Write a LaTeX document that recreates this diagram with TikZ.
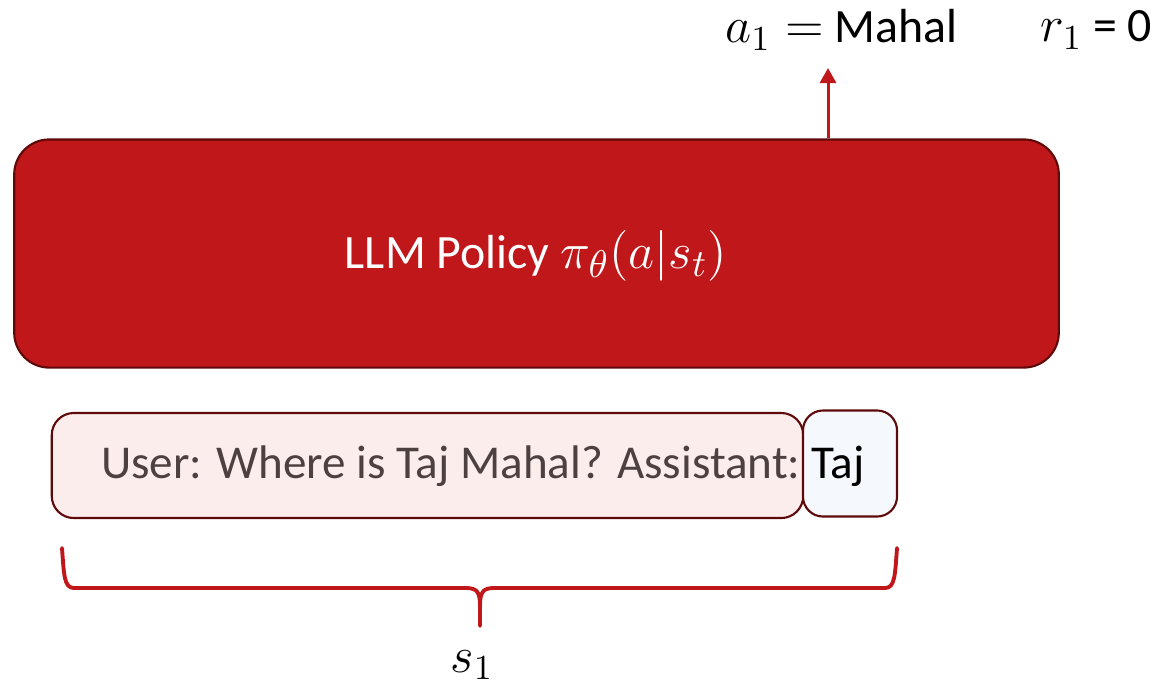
\documentclass[tikz,border=0pt]{standalone}
\usepackage{amsmath}
\usepackage{fontspec}
\setmainfont{Carlito}
\usepackage{tikz}
\usetikzlibrary{arrows.meta, positioning}
\definecolor{policyred}{HTML}{C0171A}
\definecolor{edgered}{HTML}{5E0A0A}
\definecolor{promptfill}{HTML}{FCEDED}
\definecolor{tokenfill}{HTML}{F5F8FC}
\definecolor{prompttext}{HTML}{4D4040}

\begin{document}
\begin{tikzpicture}[x=0.01cm, y=-0.01cm,
    policy/.style={draw=edgered, fill=policyred, line width=0.6pt, rounded corners=0.35cm,
      minimum width=10.44cm, minimum height=2.28cm, inner sep=0pt},
    promptbox/.style={draw=edgered, fill=promptfill, line width=0.6pt, rounded corners=0.22cm,
      minimum width=7.51cm, minimum height=1.05cm, inner sep=0pt},
    tokenbox/.style={draw=edgered, fill=tokenfill, line width=0.6pt, rounded corners=0.2cm,
      minimum width=0.94cm, minimum height=1.06cm, inner sep=0pt},
    bigtxt/.style={font=\fontsize{13.4}{16}\selectfont, inner sep=0pt},
    labtxt/.style={font=\fontsize{13.6}{16}\selectfont, inner sep=0pt},
    redline/.style={draw=policyred, line width=1.1pt, line join=round, line cap=round}]
    \useasboundingbox (0,0) rectangle (1158,693);
    % policy block
    \node[policy] (llm) at (536.5,253.5) {};
    \node[labtxt, text=white] (llmtxt) at (536,256)
      {LLM Policy {\fontsize{15.5}{18}\selectfont$\pi_\theta(a|s_t)$}};
    % input tokens
    \node[promptbox] (prompt) at (427.5,465.5) {};
    \node[tokenbox] (token) at (850,463.5) {};
    \node[bigtxt, text=prompttext, anchor=east] (prompttxt) at ([xshift=-0.03cm, yshift=-0.02cm]prompt.east)
      {\strut User: Where is Taj Mahal? Assistant:};
    \node[bigtxt, anchor=west] (tokentxt) at ([xshift=0.09cm]token.west |- prompttxt) {\strut Taj};
    % action and reward
    \node[labtxt, anchor=west] (act) at (725,30)
      {{\fontsize{14.5}{17}\selectfont$a_1 =$} Mahal};
    \node[labtxt, anchor=west] (rew) at (1040,30)
      {{\fontsize{14.5}{17}\selectfont$r_1$} = 0};
    \coordinate (acttip) at (828,68);
    \draw[draw=policyred, line width=0.85pt, -{Triangle[length=0.15cm, width=0.16cm]}]
      (llm.north -| acttip) -- (acttip);
    % state brace
    \draw[redline] (62,548) .. controls (64,575) and (64,588) .. (74,588) -- (466,588)
      .. controls (477,588) and (480,592) .. (480,606) -- (480,626);
    \draw[redline] (897,548) .. controls (895,575) and (895,588) .. (885,588) -- (494,588)
      .. controls (483,588) and (480,592) .. (480,606);
    \node[inner sep=0pt, font=\fontsize{14.5}{17}\selectfont] (state) at (472,665) {$s_1$};
\end{tikzpicture}
\end{document}
